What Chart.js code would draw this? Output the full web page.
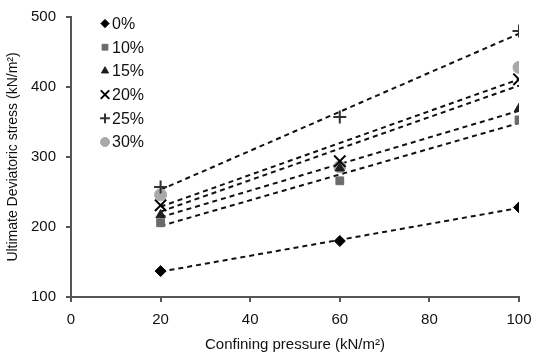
<!DOCTYPE html>
<html>
<head>
<meta charset="utf-8">
<script src="https://cdn.jsdelivr.net/npm/chart.js@4/dist/chart.umd.min.js"></script>
<style>
  html, body { margin: 0; padding: 0; background: #fff; }
  #wrap { width: 536px; height: 358px; }
</style>
</head>
<body>
<div id="wrap"><canvas id="chart"></canvas></div>
<script>
const pressures = [20, 60, 100];
const labels = ['0%', '10%', '15%', '20%', '25%', '30%'];
const s0 = [137, 180, 228];
const s10 = [206, 266, 353];
const s15 = [217, 284, 369];
const s20 = [231, 294, 411];
const s25 = [257, 357, 480];
const s30 = [246, 286, 428];

const series = [s0, s10, s15, s20, s25, s30];
const styles = [
  { pointStyle: 'rectRot', color: '#000', radius: 5.5, border: 1 },
  { pointStyle: 'rect', color: '#6b6b6b', radius: 5.5, border: 1 },
  { pointStyle: 'triangle', color: '#1e1e1e', radius: 5.5, border: 1 },
  { pointStyle: 'crossRot', color: '#000', radius: 8, border: 2 },
  { pointStyle: 'cross', color: '#333', radius: 6.5, border: 2 },
  { pointStyle: 'circle', color: '#a8a8a8', radius: 6, border: 1 },
];

const font = '"Liberation Sans", Arial, sans-serif';

// least squares fit, like the excel trendline
function trend(ys) {
  const n = pressures.length;
  const mx = pressures.reduce((a, b) => a + b, 0) / n;
  const my = ys.reduce((a, b) => a + b, 0) / n;
  let num = 0, den = 0;
  pressures.forEach((x, i) => {
    num += (x - mx) * (ys[i] - my);
    den += (x - mx) * (x - mx);
  });
  const k = num / den;
  const b = my - k * mx;
  const xs = [pressures[0], pressures[n - 1]];
  return xs.map((x) => ({ x: x, y: k * x + b }));
}

const datasets = [];
series.forEach((ys, i) => {
  datasets.push({
    label: 'trend' + i,
    data: trend(ys),
    borderColor: '#111',
    borderWidth: 2,
    borderDash: [5, 4],
    pointRadius: 0,
    showLine: true,
    order: 2,
  });
});
series.forEach((ys, i) => {
  const st = styles[i];
  datasets.push({
    label: labels[i],
    data: ys.map((y, j) => ({ x: pressures[j], y: y })),
    showLine: false,
    pointStyle: st.pointStyle,
    pointRadius: st.radius,
    pointBackgroundColor: st.color,
    pointBorderColor: st.color,
    pointBorderWidth: st.border,
    order: 1,
  });
});

// legend drawn inside the plot area
const insideLegend = {
  id: 'insideLegend',
  afterDraw(chart) {
    const ctx = chart.ctx;
    ctx.save();
    ctx.font = '16px ' + font;
    ctx.textBaseline = 'middle';
    labels.forEach((lab, i) => {
      const st = styles[i];
      const y = 23.5 + i * 23.7;
      ctx.fillStyle = st.color;
      ctx.strokeStyle = st.color;
      ctx.lineWidth = st.border;
      Chart.helpers.drawPoint(ctx, {
        pointStyle: st.pointStyle,
        radius: st.radius * 0.75,
        borderWidth: st.border,
        rotation: 0,
      }, 105, y);
      ctx.fillStyle = '#111';
      ctx.fillText(lab, 112, y + 1);
    });
    ctx.restore();
  },
};

const axisGrid = {
  display: true,
  drawOnChartArea: false,
  drawTicks: true,
  tickLength: 5,
  color: '#555',
  lineWidth: 2,
};

new Chart(document.getElementById('chart'), {
  type: 'scatter',
  data: { datasets: datasets },
  plugins: [insideLegend],
  options: {
    responsive: true,
    maintainAspectRatio: false,
    animation: false,
    layout: {
      padding: { top: 17, right: 17, left: 0, bottom: 0 },
    },
    plugins: {
      legend: { display: false },
      tooltip: { enabled: false },
    },
    scales: {
      x: {
        type: 'linear',
        min: 0,
        max: 100,
        afterFit: (scale) => {
          scale.height = 61;
          scale.paddingLeft = 0;
          scale.paddingRight = 0;
        },
        border: { color: '#555', width: 2 },
        grid: axisGrid,
        ticks: {
          stepSize: 20,
          color: '#111',
          padding: 9,
          font: { family: font, size: 15 },
        },
        title: {
          display: true,
          text: 'Confining pressure (kN/m²)',
          color: '#111',
          padding: { top: 9 },
          font: { family: font, size: 15 },
        },
      },
      y: {
        type: 'linear',
        min: 100,
        max: 500,
        afterFit: (scale) => {
          scale.width = 71;
          scale.paddingTop = 0;
          scale.paddingBottom = 0;
        },
        border: { color: '#555', width: 2 },
        grid: axisGrid,
        ticks: {
          stepSize: 100,
          color: '#111',
          padding: 10,
          font: { family: font, size: 15 },
        },
        title: {
          display: true,
          text: 'Ultimate Deviatoric stress (kN/m²)',
          color: '#111',
          padding: { top: 5, bottom: 2 },
          font: { family: font, size: 14 },
        },
      },
    },
  },
});
</script>
</body>
</html>
